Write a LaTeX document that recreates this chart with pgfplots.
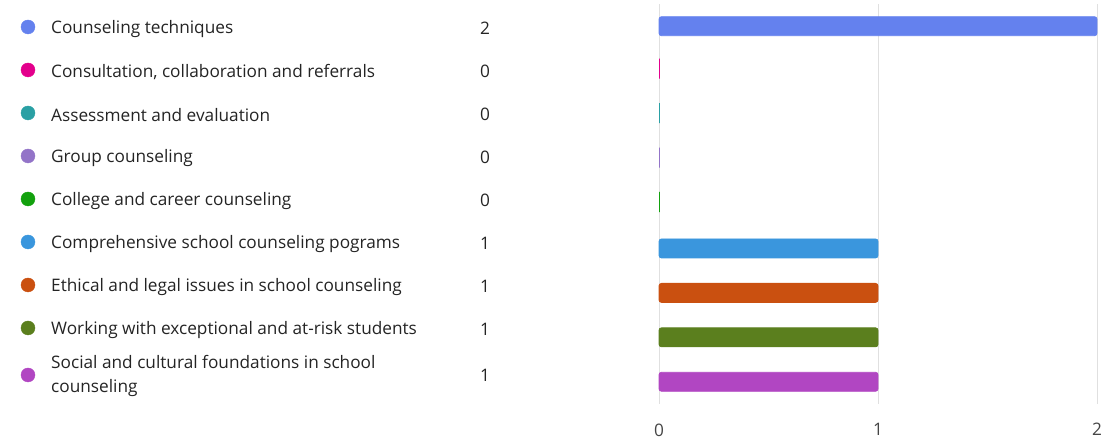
\documentclass[border=0pt]{standalone}
\usepackage{pgfplots}
\pgfplotsset{compat=1.18}
\usepackage{fontspec}
\setmainfont{Open Sans}
\definecolor{c1}{HTML}{6481EE}
\definecolor{c2}{HTML}{E3008C}
\definecolor{c3}{HTML}{2AA0A4}
\definecolor{c4}{HTML}{9374C8}
\definecolor{c5}{HTML}{13A10E}
\definecolor{c6}{HTML}{3A96DD}
\definecolor{c7}{HTML}{CA5010}
\definecolor{c8}{HTML}{5B7F1E}
\definecolor{c9}{HTML}{B146C2}
\definecolor{txt}{HTML}{242424}
\definecolor{grid}{HTML}{E0E0E0}
\begin{document}
\begin{tikzpicture}[x=1bp,y=1bp]
\useasboundingbox (0,0) rectangle (1104,443);
% bars
\begin{axis}[at={(659bp,39bp)}, anchor=south west, scale only axis,
  width=438bp, height=400bp,
  xmin=0, xmax=2, ymin=-0.5, ymax=8.5, y dir=reverse,
  axis line style={draw=none}, ytick=\empty,
  xtick={0,1,2}, major tick length=0pt,
  /pgf/number format/assume math mode=true,
  xmajorgrids, major grid style={color=grid, line width=1bp},
  xticklabel style={font=\fontsize{17.3}{20}\selectfont, text=txt!85, yshift=-16bp},
  clip=false,
  every axis plot/.append style={xbar, bar width=19bp, bar shift=0pt, rounded corners=2.5bp, line width=0.8bp}]
\addplot[fill=c1, draw=c1] coordinates {(2,0)};
\addplot[fill=c2, draw=c2] coordinates {(0,1)};
\addplot[fill=c3, draw=c3] coordinates {(0,2)};
\addplot[fill=c4, draw=c4] coordinates {(0,3)};
\addplot[fill=c5, draw=c5] coordinates {(0,4)};
\addplot[fill=c6, draw=c6] coordinates {(1,5)};
\addplot[fill=c7, draw=c7] coordinates {(1,6)};
\addplot[fill=c8, draw=c8] coordinates {(1,7)};
\addplot[fill=c9, draw=c9] coordinates {(1,8)};
\end{axis}
% legend list
\begin{axis}[at={(0,0)}, anchor=south west, scale only axis,
  width=1104bp, height=443bp, hide axis,
  xmin=0, xmax=1104, ymin=0, ymax=443, y dir=reverse, clip=false,
  every axis plot/.append style={only marks, mark=*, mark size=7bp}]
\addplot[c1, mark options={draw=c1, fill=c1}] coordinates {(28,27)};
\addplot[c2, mark options={draw=c2, fill=c2}] coordinates {(28,70)};
\addplot[c3, mark options={draw=c3, fill=c3}] coordinates {(28,113)};
\addplot[c4, mark options={draw=c4, fill=c4}] coordinates {(28,156)};
\addplot[c5, mark options={draw=c5, fill=c5}] coordinates {(28,199)};
\addplot[c6, mark options={draw=c6, fill=c6}] coordinates {(28,242)};
\addplot[c7, mark options={draw=c7, fill=c7}] coordinates {(28,285)};
\addplot[c8, mark options={draw=c8, fill=c8}] coordinates {(28,328)};
\addplot[c9, mark options={draw=c9, fill=c9}] coordinates {(28,375)};
\begin{scope}[every node/.style={font=\fontsize{17.3}{24}\selectfont, text=txt, inner sep=0pt}]
\node[anchor=west] at (axis cs:51,29) {Counseling techniques};
\node[anchor=west] at (axis cs:51,72) {Consultation, collaboration and referrals};
\node[anchor=west] at (axis cs:51,115) {Assessment and evaluation};
\node[anchor=west] at (axis cs:51,158) {Group counseling};
\node[anchor=west] at (axis cs:51,201) {College and career counseling};
\node[anchor=west] at (axis cs:51,244) {Comprehensive school counseling pograms};
\node[anchor=west] at (axis cs:51,287) {Ethical and legal issues in school counseling};
\node[anchor=west] at (axis cs:51,330) {Working with exceptional and at-risk students};
\node[anchor=west, align=left] at (axis cs:51,376) {Social and cultural foundations in school\\counseling};
\node at (axis cs:485,28) {2};
\node at (axis cs:485,71) {0};
\node at (axis cs:485,114) {0};
\node at (axis cs:485,157) {0};
\node at (axis cs:485,200) {0};
\node at (axis cs:485,243) {1};
\node at (axis cs:485,286) {1};
\node at (axis cs:485,329) {1};
\node at (axis cs:485,375) {1};
\end{scope}
\end{axis}
\end{tikzpicture}
\end{document}
